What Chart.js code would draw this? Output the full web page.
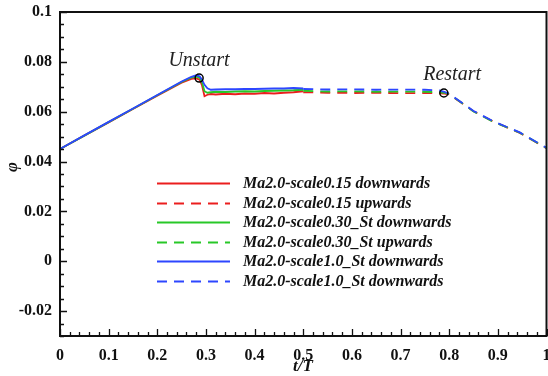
<!DOCTYPE html>
<html>
<head>
<meta charset="utf-8">
<script src="https://cdn.jsdelivr.net/npm/chart.js@4/dist/chart.umd.min.js"></script>
<style>
html,body{margin:0;padding:0;background:#fff;overflow:hidden;width:548px;height:376px;}
#wrap{position:relative;width:552px;height:376px;}
</style>
</head>
<body>
<div id="wrap"><canvas id="c" width="552" height="376"></canvas></div>
<script>
// ---- data ----
const tDown = [0, 0.05, 0.1, 0.15, 0.2, 0.25, 0.27, 0.28, 0.287, 0.292, 0.297, 0.303, 0.31, 0.32, 0.34, 0.36, 0.38, 0.4, 0.42, 0.44, 0.46, 0.48, 0.5];
const redDown   = [0.045, 0.0504, 0.0557, 0.0611, 0.0664, 0.0716, 0.0732, 0.0734, 0.0729, 0.0705, 0.0662, 0.0668, 0.0671, 0.0669, 0.0672, 0.0670, 0.0673, 0.0672, 0.0675, 0.0673, 0.0676, 0.0678, 0.0682];
const greenDown = [0.045, 0.0504, 0.0558, 0.0612, 0.0666, 0.0719, 0.0737, 0.0741, 0.0737, 0.0718, 0.0682, 0.0676, 0.0678, 0.0680, 0.0679, 0.0681, 0.0682, 0.0681, 0.0683, 0.0684, 0.0685, 0.0686, 0.0688];
const blueDown  = [0.045, 0.0505, 0.0559, 0.0613, 0.0667, 0.0721, 0.0740, 0.0746, 0.0742, 0.0728, 0.0708, 0.0694, 0.0688, 0.0689, 0.0690, 0.0690, 0.0691, 0.0691, 0.0692, 0.0693, 0.0693, 0.0695, 0.0693];
const tUp = [0.5, 0.55, 0.6, 0.65, 0.7, 0.75, 0.78, 0.79, 0.8, 0.816, 0.85, 0.89, 0.945, 1.0];
const redUp   = [0.0678, 0.0676, 0.0675, 0.0676, 0.0674, 0.0675, 0.0674, 0.0673, 0.0670, 0.0648, 0.0602, 0.0561, 0.0515, 0.0453];
const greenUp = [0.0684, 0.0681, 0.0682, 0.0680, 0.0681, 0.0680, 0.0678, 0.0676, 0.0671, 0.0649, 0.0601, 0.0560, 0.0516, 0.0454];
const blueUp  = [0.0691, 0.0689, 0.0690, 0.0688, 0.0689, 0.0688, 0.0685, 0.0680, 0.0672, 0.0650, 0.0603, 0.0562, 0.0517, 0.0455];
const markerT = [0.286, 0.789];
const markerPhi = [0.0735, 0.0675];
const seriesNames = [
  'Ma2.0-scale0.15 downwards',
  'Ma2.0-scale0.15 upwards',
  'Ma2.0-scale0.30_St downwards',
  'Ma2.0-scale0.30_St upwards',
  'Ma2.0-scale1.0_St downwards',
  'Ma2.0-scale1.0_St downwards'
];
const xTickValues = [0,0.1,0.2,0.3,0.4,0.5,0.6,0.7,0.8,0.9,1];
const xTickLabels = ['0','0.1','0.2','0.3','0.4','0.5','0.6','0.7','0.8','0.9','1'];
const yTickValues = [-0.02,0,0.02,0.04,0.06,0.08,0.1];
const yTickLabels = ['-0.02','0','0.02','0.04','0.06','0.08','0.1'];
const annotTexts = ['Unstart','Restart'];
const annotT = [0.2857, 0.806];
const annotPhi = [0.0804, 0.0747];

// ---- styles ----
const RED = 'rgb(235,30,30)', GREEN = 'rgb(40,200,40)', BLUE = 'rgb(45,70,255)';
const DASH = [10,7];
const pts = (xs, ys) => xs.map((x,i)=>({x:x,y:ys[i]}));
const mk = (label, xs, ys, color, dashed, order) => ({
  label, data: pts(xs,ys), borderColor: color, backgroundColor: color,
  borderWidth: 1.8, borderDash: dashed ? DASH : [], pointRadius: 0, tension: 0, order
});
const datasets = [
  mk(seriesNames[0], tDown, redDown, RED, false, 6),
  mk(seriesNames[1], tUp, redUp, RED, true, 5),
  mk(seriesNames[2], tDown, greenDown, GREEN, false, 4),
  mk(seriesNames[3], tUp, greenUp, GREEN, true, 3),
  mk(seriesNames[4], tDown, blueDown, BLUE, false, 2),
  mk(seriesNames[5], tUp, blueUp, BLUE, true, 1),
  {label:'markers', data: pts(markerT, markerPhi), showLine:false, pointRadius:4, pointBorderWidth:1.5,
   pointBorderColor:'#000', pointBackgroundColor:'rgba(0,0,0,0)', order:0}
];

const SERIF = '"Liberation Serif","Times New Roman",serif';

const decor = {
  id:'decor',
  afterDraw(chart){
    const ctx = chart.ctx, a = chart.chartArea, xs = chart.scales.x, ys = chart.scales.y;
    ctx.save();
    // frame
    ctx.strokeStyle = '#111'; ctx.lineWidth = 2;
    ctx.strokeRect(a.left, a.top, a.right - a.left, a.bottom - a.top);
    // ticks (inward)
    ctx.lineWidth = 1.3;
    ctx.beginPath();
    for (let i = 0; i <= 50; i++) {
      const v = i*0.02; const px = Math.round(xs.getPixelForValue(v)) + 0.5;
      const len = (i % 5 === 0) ? 7 : 4;
      ctx.moveTo(px, a.bottom); ctx.lineTo(px, a.bottom - len);
    }
    for (let i = -6; i <= 20; i++) {
      const v = i*0.005; const py = Math.round(ys.getPixelForValue(v)) + 0.5;
      const len = (i % 4 === 0) ? 7 : 4;
      ctx.moveTo(a.left, py); ctx.lineTo(a.left + len, py);
    }
    ctx.stroke();
    // annotations
    ctx.fillStyle = '#222';
    ctx.font = 'italic 20px ' + SERIF;
    ctx.textAlign = 'center'; ctx.textBaseline = 'middle';
    annotTexts.forEach((t,i)=>{
      ctx.fillText(t, xs.getPixelForValue(annotT[i]), ys.getPixelForValue(annotPhi[i]));
    });
    // x title
    ctx.font = 'bold italic 17px ' + SERIF;
    ctx.fillStyle = '#111';
    ctx.fillText('t/T', 303, 367);
    // y title
    ctx.save();
    ctx.translate(13, 167); ctx.rotate(-Math.PI/2);
    ctx.font = 'bold italic 17px ' + SERIF;
    ctx.fillText('\u03C6', 0, 0);
    ctx.restore();
    // legend
    const lx0 = 157, lx1 = 230, tx = 243, y0 = 183, dy = 19.6;
    ctx.font = 'bold italic 16px ' + SERIF;
    ctx.textAlign = 'left'; ctx.textBaseline = 'middle';
    for (let i = 0; i < 6; i++) {
      const ds = chart.data.datasets[i];
      const y = Math.round(y0 + i*dy) + 0.5;
      ctx.strokeStyle = ds.borderColor; ctx.lineWidth = 2;
      ctx.setLineDash(ds.borderDash);
      ctx.beginPath(); ctx.moveTo(lx0, y); ctx.lineTo(lx1, y); ctx.stroke();
      ctx.setLineDash([]);
      ctx.fillStyle = '#111';
      ctx.fillText(ds.label, tx, y);
    }
    ctx.restore();
  }
};

const noPad = s => { s.paddingLeft = 0; s.paddingRight = 0; s.paddingTop = 0; s.paddingBottom = 0; };

new Chart(document.getElementById('c'), {
  type: 'line',
  data: { datasets },
  options: {
    responsive: false, animation: false,
    layout: { padding: { top: 12, right: 2, left: 0, bottom: 0 } },
    plugins: { legend: { display: false }, tooltip: { enabled: false } },
    scales: {
      x: {
        type: 'linear', min: 0, max: 1,
        afterFit: s => { s.height = 40; noPad(s); },
        afterBuildTicks: s => { s.ticks = xTickValues.map(v => ({value: v})); },
        grid: { display: false, drawTicks: false },
        border: { display: false },
        ticks: { autoSkip: false, maxRotation: 0, padding: 10, color: '#111',
          font: { family: SERIF, size: 16, weight: 'bold' },
          callback: (v, i) => xTickLabels[i] }
      },
      y: {
        type: 'linear', min: -0.03, max: 0.1,
        afterFit: s => { s.width = 60; noPad(s); },
        afterBuildTicks: s => { s.ticks = yTickValues.map(v => ({value: v})); },
        grid: { display: false, drawTicks: false },
        border: { display: false },
        ticks: { padding: 8, color: '#111',
          font: { family: SERIF, size: 16, weight: 'bold' },
          callback: (v, i) => yTickLabels[i] }
      }
    }
  },
  plugins: [decor]
});
</script>
</body>
</html>
